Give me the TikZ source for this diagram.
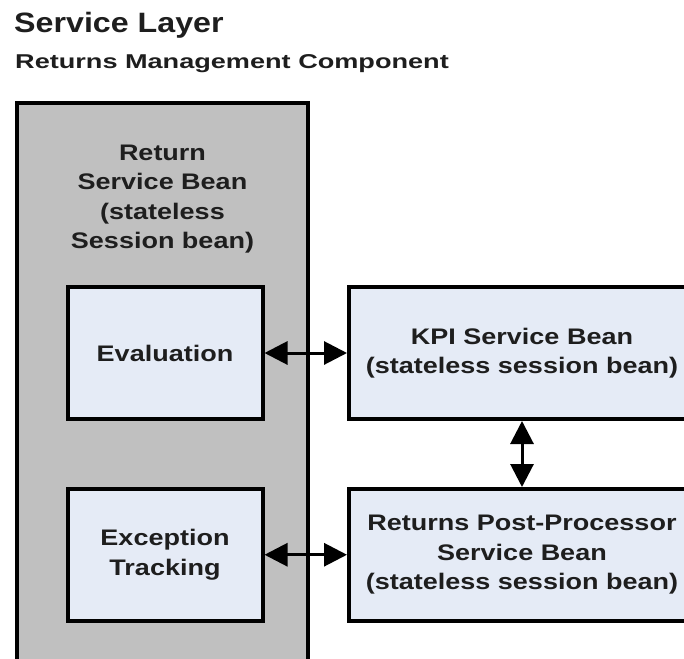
\documentclass[tikz,border=0pt]{standalone}
\usepackage{fontspec}
\setmainfont{Liberation Sans}
\newfontfamily\titlefont[FakeStretch=1.15]{Liberation Sans}
\newfontfamily\subtitlefont[FakeStretch=1.355]{Liberation Sans}
\newfontfamily\boxfont[FakeStretch=1.2]{Liberation Sans}
\usetikzlibrary{arrows.meta}
\definecolor{layergray}{HTML}{C0C0C0}
\definecolor{beanblue}{HTML}{E5EBF6}
\definecolor{inktext}{HTML}{1E1E1E}
\begin{document}
\begin{tikzpicture}[x=1pt,y=-1pt,
  beanbox/.style={draw=black, line width=4pt, fill=beanblue, inner sep=0pt,
    align=center, text=inktext,
    font=\boxfont\bfseries\fontsize{22.5}{29.5}\selectfont},
  layerbox/.style={draw=black, line width=4pt, fill=layergray, inner sep=0pt},
  boxlabel/.style={inner sep=0pt, align=center, text=inktext,
    font=\boxfont\bfseries\fontsize{22.5}{29.5}\selectfont},
  link/.style={line width=3pt,
    {Triangle[length=23pt,width=23pt]}-{Triangle[length=23pt,width=23pt]}}]
  \useasboundingbox (0,0) rectangle (684,658);
  \clip (0,0) rectangle (684,658);

  % headings
  \node[anchor=base west, inner sep=0pt, text=inktext,
    font=\titlefont\bfseries\fontsize{28}{34}\selectfont] (title) at (14,33) {Service Layer};
  \node[anchor=base west, inner sep=0pt, text=inktext,
    font=\subtitlefont\bfseries\fontsize{20}{24}\selectfont] (subtitle) at (15,69) {Returns Management Component};

  % return service bean container
  \node[layerbox, minimum width=291pt, minimum height=600pt] (rsb) at (162.5,403) {};
  \node[boxlabel] (rsblabel) at (162.5,199) {Return\\Service Bean\\(stateless\\Session bean)};

  % inner parts
  \node[beanbox, minimum width=195pt, minimum height=132pt] (eval) at (165,353) {Evaluation};
  \node[beanbox, minimum width=195pt, minimum height=131.5pt] (exc) at (165,554.75) {Exception\\Tracking};

  % collaborating beans
  \node[beanbox, minimum width=346pt, minimum height=132pt] (kpi) at (522,353) {KPI Service Bean\\(stateless session bean)};
  \node[beanbox, minimum width=346pt, minimum height=131.5pt] (post) at (522,554.75) {Returns Post-Processor\\Service Bean\\(stateless session bean)};

  % connections
  \draw[link] (eval.east) -- (kpi.west);
  \draw[link] (exc.east) -- (post.west);
  \draw[link] (kpi.south) -- (post.north);
\end{tikzpicture}
\end{document}
